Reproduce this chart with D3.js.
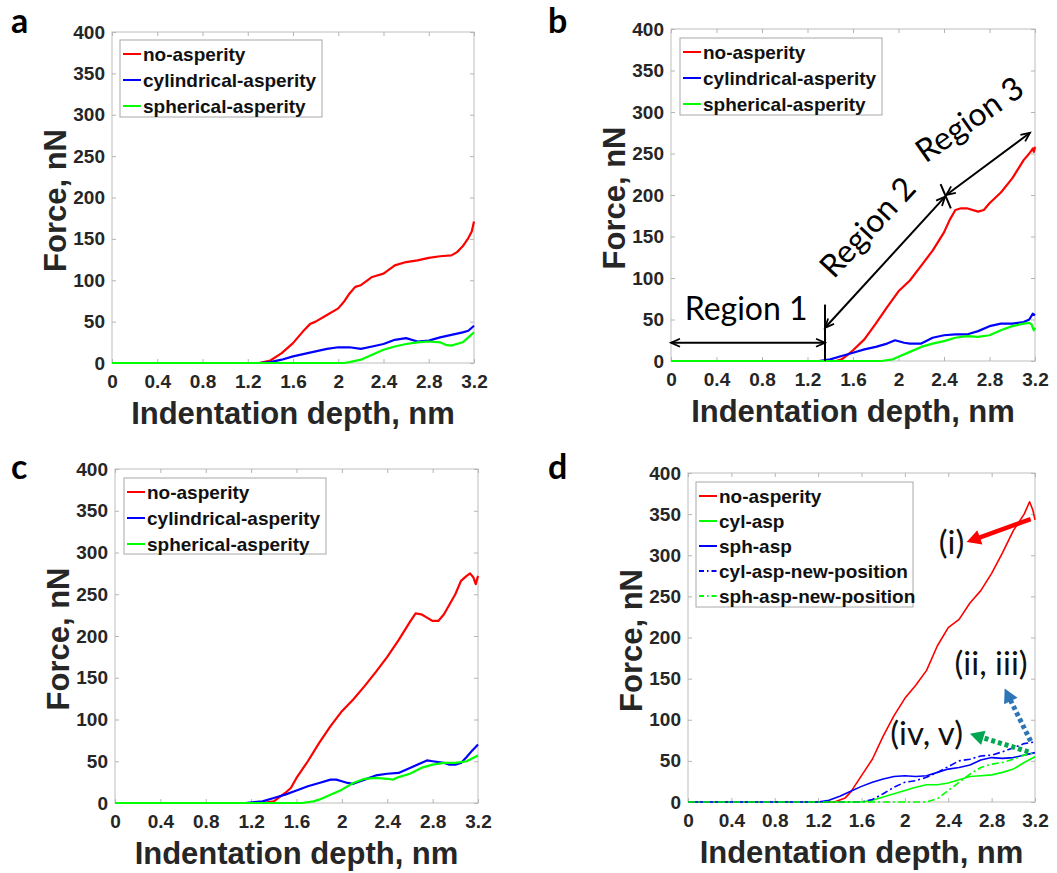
<!DOCTYPE html>
<html>
<head>
<meta charset="utf-8">
<script src="https://cdn.jsdelivr.net/npm/d3@7"></script>
<style>
  body { margin: 0; background: #fff; }
  .tick text { font-family: "Liberation Sans", Arial, sans-serif; font-weight: bold; font-size: 19px; fill: #262626; }
</style>
</head>
<body>
<script>
// shared axes
const xTicks = [0, 0.4, 0.8, 1.2, 1.6, 2, 2.4, 2.8, 3.2];
const xTickLabels = ["0", "0.4", "0.8", "1.2", "1.6", "2", "2.4", "2.8", "3.2"];
const yTicks = [0, 50, 100, 150, 200, 250, 300, 350, 400];

// panel a  [depth nm, force nN]
const aNoAsp = [[0,0],[1.3,0],[1.4,3],[1.5,12],[1.6,24],[1.7,40],[1.75,47],[1.8,50],[1.9,58],[2.0,66],[2.05,74],[2.1,84],[2.15,92],[2.2,94],[2.3,104],[2.4,108],[2.5,118],[2.6,122],[2.7,124],[2.8,127],[2.9,129],[3.0,130],[3.05,134],[3.1,141],[3.15,151],[3.18,159],[3.2,171]];
const aCyl = [[0,0],[1.3,0],[1.4,1],[1.5,4],[1.6,8],[1.7,11],[1.8,14],[1.9,17],[2.0,19],[2.1,19],[2.2,17],[2.3,20],[2.4,23],[2.5,28],[2.6,30],[2.7,26],[2.8,27],[2.9,31],[3.0,34],[3.1,37],[3.15,39],[3.2,45]];
const aSph = [[0,0],[2.05,0],[2.1,1],[2.2,4],[2.3,10],[2.4,16],[2.5,20],[2.6,23],[2.7,25],[2.8,26],[2.9,25],[2.95,22],[3.0,21],[3.1,25],[3.2,37]];

// panel b
const bNoAsp = [[0,0],[1.45,0],[1.5,2],[1.55,7],[1.6,13],[1.7,26],[1.8,45],[1.9,65],[2.0,84],[2.1,97],[2.2,115],[2.3,133],[2.4,155],[2.45,170],[2.5,182],[2.55,184],[2.6,184],[2.7,180],[2.75,182],[2.8,190],[2.9,203],[3.0,220],[3.1,242],[3.15,250],[3.18,256],[3.19,252],[3.2,258]];
const bCyl = [[0,0],[1.3,0],[1.4,2],[1.5,6],[1.6,10],[1.7,14],[1.8,17],[1.9,21],[1.97,25],[2.05,22],[2.1,21],[2.2,21],[2.3,28],[2.4,31],[2.5,32],[2.6,32],[2.7,36],[2.8,42],[2.9,45],[3.0,45],[3.1,47],[3.15,50],[3.18,57],[3.2,55]];
const bSph = [[0,0],[1.85,0],[1.95,2],[2.0,5],[2.1,11],[2.2,17],[2.3,21],[2.4,24],[2.5,28],[2.6,30],[2.7,29],[2.8,31],[2.9,37],[3.0,42],[3.1,45],[3.15,46],[3.17,44],[3.19,37],[3.2,40]];

// panel c
const cNoAsp = [[0,0],[1.3,0],[1.4,2],[1.5,12],[1.55,18],[1.6,30],[1.7,50],[1.8,72],[1.9,92],[2.0,110],[2.1,124],[2.2,140],[2.3,157],[2.4,175],[2.5,195],[2.6,217],[2.65,227],[2.7,226],[2.75,222],[2.8,218],[2.85,218],[2.9,226],[3.0,250],[3.05,266],[3.1,272],[3.13,275],[3.16,270],[3.18,262],[3.2,272]];
const cCyl = [[0,0],[1.15,0],[1.3,2],[1.4,6],[1.5,10],[1.6,15],[1.7,20],[1.8,24],[1.9,28],[1.95,28],[2.0,26],[2.05,24],[2.1,23],[2.2,28],[2.3,33],[2.4,35],[2.5,36],[2.6,42],[2.7,48],[2.75,51],[2.8,50],[2.9,48],[2.95,46],[3.0,46],[3.05,48],[3.1,55],[3.15,63],[3.2,70]];
const cSph = [[0,0],[1.65,0],[1.75,2],[1.8,4],[1.9,10],[2.0,16],[2.1,24],[2.2,29],[2.3,30],[2.4,29],[2.45,28],[2.5,31],[2.6,35],[2.7,42],[2.8,46],[2.9,48],[3.0,48],[3.1,50],[3.2,57]];

// panel d
const dNoAsp = [[0,0],[1.35,0],[1.45,5],[1.5,12],[1.6,32],[1.7,52],[1.8,80],[1.9,105],[2.0,126],[2.1,142],[2.2,160],[2.3,190],[2.4,212],[2.5,222],[2.6,242],[2.7,257],[2.8,278],[2.9,303],[3.0,330],[3.1,350],[3.15,365],[3.18,355],[3.2,343]];
const dCylAsp = [[0,0],[1.6,0],[1.7,2],[1.8,6],[1.9,10],[2.0,14],[2.1,18],[2.2,21],[2.3,21],[2.4,23],[2.5,27],[2.6,31],[2.7,32],[2.8,33],[2.9,36],[3.0,40],[3.1,48],[3.2,55]];
const dSphAsp = [[0,0],[1.2,0],[1.3,2],[1.4,7],[1.5,13],[1.6,19],[1.7,24],[1.8,28],[1.9,31],[2.0,32],[2.1,31],[2.2,32],[2.3,36],[2.4,40],[2.5,42],[2.6,45],[2.7,51],[2.8,54],[2.9,53],[3.0,54],[3.1,57],[3.2,60]];
const dCylNew = [[0,0],[1.6,0],[1.7,3],[1.8,10],[1.9,18],[2.0,24],[2.1,26],[2.2,30],[2.3,36],[2.4,43],[2.5,50],[2.6,52],[2.7,56],[2.8,57],[2.9,61],[3.0,66],[3.1,71],[3.2,73]];
const dSphNew = [[0,0],[2.2,0],[2.3,4],[2.4,14],[2.5,24],[2.6,34],[2.7,42],[2.8,46],[2.9,48],[3.0,52],[3.1,57],[3.2,60]];

const RED = "#ff0000", BLUE = "#0000ff", GREEN = "#00ff00";
const MAT = '"Liberation Sans", Arial, sans-serif';
const CAL = 'Lato, "Open Sans", sans-serif';

const svg = d3.select("body").append("svg").attr("width", 1057).attr("height", 873);

const panels = [
  { id: "a", plot: [112, 32, 474, 363], legend: [120, 40, 202, 77], lw: 2.2,
    series: [
      { name: "no-asperity", data: aNoAsp, color: RED },
      { name: "cylindrical-asperity", data: aCyl, color: BLUE },
      { name: "spherical-asperity", data: aSph, color: GREEN }] },
  { id: "b", plot: [671, 29, 1035, 361], legend: [680, 38, 202, 77], lw: 2.2,
    series: [
      { name: "no-asperity", data: bNoAsp, color: RED },
      { name: "cylindrical-asperity", data: bCyl, color: BLUE },
      { name: "spherical-asperity", data: bSph, color: GREEN }] },
  { id: "c", plot: [115, 469, 478, 803], legend: [124, 478, 202, 76], lw: 2.2,
    series: [
      { name: "no-asperity", data: cNoAsp, color: RED },
      { name: "cylindrical-asperity", data: cCyl, color: BLUE },
      { name: "spherical-asperity", data: cSph, color: GREEN }] },
  { id: "d", plot: [688, 473, 1035, 802], legend: [696, 482, 217, 125], lw: 1.6,
    series: [
      { name: "no-asperity", data: dNoAsp, color: RED },
      { name: "cyl-asp", data: dCylAsp, color: GREEN },
      { name: "sph-asp", data: dSphAsp, color: BLUE },
      { name: "cyl-asp-new-position", data: dCylNew, color: BLUE, dash: "7,3,2,3" },
      { name: "sph-asp-new-position", data: dSphNew, color: GREEN, dash: "7,3,2,3" }] }
];

// pixel-space arrow head (filled triangle or open V)
function arrowHead(g, x1, y1, x2, y2, len, half, color, filled) {
  const a = Math.atan2(y2 - y1, x2 - x1);
  const bx = x2 - len * Math.cos(a), by = y2 - len * Math.sin(a);
  const px = -Math.sin(a) * half, py = Math.cos(a) * half;
  if (filled) {
    g.append("path").attr("d", `M${x2},${y2}L${bx + px},${by + py}L${bx - px},${by - py}Z`)
      .attr("fill", color);
  } else {
    g.append("path").attr("d", `M${bx + px},${by + py}L${x2},${y2}L${bx - px},${by - py}`)
      .attr("fill", "none").attr("stroke", color).attr("stroke-width", 1.8);
  }
}

const scales = {};

panels.forEach(p => {
  const [x0, y0, x1, y1] = p.plot;
  const x = d3.scaleLinear().domain([0, 3.2]).range([x0, x1]);
  const y = d3.scaleLinear().domain([0, 400]).range([y1, y0]);
  scales[p.id] = { x, y };
  const g = svg.append("g");

  g.append("rect").attr("x", x0).attr("y", y0).attr("width", x1 - x0).attr("height", y1 - y0)
    .attr("fill", "#fff").attr("stroke", "#bdbdbd").attr("stroke-width", 1);

  const styleAxis = sel => { sel.select(".domain").remove(); sel.selectAll(".tick line").attr("stroke", "#b5b5b5"); };
  g.append("g").attr("transform", `translate(0,${y1})`)
    .call(d3.axisBottom(x).tickValues(xTicks).tickFormat((d, i) => xTickLabels[i]).tickSize(-4).tickPadding(12))
    .call(styleAxis);
  g.append("g").attr("transform", `translate(0,${y0})`)
    .call(d3.axisTop(x).tickValues(xTicks).tickFormat("").tickSize(-4)).call(styleAxis);
  g.append("g").attr("transform", `translate(${x0},0)`)
    .call(d3.axisLeft(y).tickValues(yTicks).tickSize(-4).tickPadding(7)).call(styleAxis);
  g.append("g").attr("transform", `translate(${x1},0)`)
    .call(d3.axisRight(y).tickValues(yTicks).tickFormat("").tickSize(-4)).call(styleAxis);
  g.selectAll(".tick text").attr("font-family", null).attr("font-size", null);

  const line = d3.line().x(d => x(d[0])).y(d => y(d[1]));
  p.series.forEach(s => {
    g.append("path").datum(s.data).attr("d", line)
      .attr("fill", "none").attr("stroke", s.color).attr("stroke-width", p.lw)
      .attr("stroke-dasharray", s.dash || null).attr("stroke-linejoin", "round");
  });

  // legend
  const [lx, ly, lw, lh] = p.legend;
  const lg = g.append("g");
  lg.append("rect").attr("x", lx).attr("y", ly).attr("width", lw).attr("height", lh)
    .attr("fill", "#fff").attr("stroke", "#a8a8a8").attr("stroke-width", 1);
  p.series.forEach((s, i) => {
    const yy = ly + 14 + i * (p.series.length > 3 ? 25 : 26);
    lg.append("line").attr("x1", lx + 3).attr("x2", lx + 21).attr("y1", yy).attr("y2", yy)
      .attr("stroke", s.color).attr("stroke-width", 2).attr("stroke-dasharray", s.dash ? "5,3,1.5,3" : null);
    lg.append("text").attr("x", lx + 23).attr("y", yy).attr("dy", "0.35em")
      .attr("font-family", MAT).attr("font-weight", "bold").attr("font-size", 19).attr("fill", "#111")
      .text(s.name);
  });

  // axis titles
  g.append("text").attr("x", (x0 + x1) / 2).attr("y", y1 + 61).attr("text-anchor", "middle")
    .attr("font-family", MAT).attr("font-weight", "bold").attr("font-size", 31).attr("fill", "#262626")
    .text("Indentation depth, nm");
  g.append("text").attr("transform", `translate(${x0 - 46},${(y0 + y1) / 2 + 3}) rotate(-90)`)
    .attr("text-anchor", "middle")
    .attr("font-family", MAT).attr("font-weight", "bold").attr("font-size", 31).attr("fill", "#262626")
    .text("Force, nN");
});

// panel letters
const panelLetters = [["a", 11, 33], ["b", 548, 33], ["c", 11, 479], ["d", 548, 479]];
panelLetters.forEach(([t, px, py]) => {
  svg.append("text").attr("x", px).attr("y", py).attr("font-family", CAL).attr("font-weight", "bold")
    .attr("font-size", 34).attr("fill", "#000").text(t);
});

// panel b annotations (data coordinates)
const regionBoundary = 1.354;
const region1Arrow = [[0, 22], [regionBoundary, 22]];
const region1Tick = [[regionBoundary, 0], [regionBoundary, 68]];
const region2Arrow = [[regionBoundary, 40], [2.41, 198]];
const region23Tick = [[2.37, 213], [2.46, 184]];
const region3Arrow = [[2.42, 200], [3.156, 275]];
const regionLabels = [["Region 1", 0.12, 50, 0], ["Region 2", 1.8, 152, -47], ["Region 3", 2.68, 280, -35]];

{
  const { x, y } = scales.b;
  const g = svg.append("g");
  const seg = (pts, heads) => {
    const [[a0, b0], [a1, b1]] = pts;
    const X0 = x(a0), Y0 = y(b0), X1 = x(a1), Y1 = y(b1);
    g.append("line").attr("x1", X0).attr("y1", Y0).attr("x2", X1).attr("y2", Y1)
      .attr("stroke", "#000").attr("stroke-width", 2);
    if (heads) {
      arrowHead(g, X0, Y0, X1, Y1, 9, 4, "#000", false);
      arrowHead(g, X1, Y1, X0, Y0, 9, 4, "#000", false);
    }
  };
  seg(region1Arrow, true);
  seg(region1Tick, false);
  seg(region2Arrow, true);
  seg(region23Tick, false);
  seg(region3Arrow, true);
  regionLabels.forEach(([t, dx, dy, rot], i) => {
    const tx = x(dx), ty = y(dy);
    g.append("text").attr("transform", `translate(${tx},${ty}) rotate(${rot})`)
      .attr("text-anchor", i === 0 ? "start" : "middle")
      .attr("font-family", CAL).attr("font-size", 32).attr("fill", "#000").text(t);
  });
}

// panel d annotations (data coordinates)
const dArrows = [
  { from: [3.16, 344], to: [2.57, 316], color: "#ff0000", dash: null, w: 4.5 },
  { from: [3.16, 74], to: [2.92, 138], color: "#2e75b6", dash: "4,3", w: 5 },
  { from: [3.14, 61], to: [2.6, 83], color: "#00a651", dash: "4,3", w: 5 }
];
const dLabels = [["(i)", 2.43, 315], ["(ii, iii)", 2.795, 169], ["(iv, v)", 2.2, 83]];

{
  const { x, y } = scales.d;
  const g = svg.append("g");
  dArrows.forEach(a => {
    const X0 = x(a.from[0]), Y0 = y(a.from[1]), X1 = x(a.to[0]), Y1 = y(a.to[1]);
    const ang = Math.atan2(Y1 - Y0, X1 - X0);
    const hl = 14;
    g.append("line").attr("x1", X0).attr("y1", Y0)
      .attr("x2", X1 - (hl - 2) * Math.cos(ang)).attr("y2", Y1 - (hl - 2) * Math.sin(ang))
      .attr("stroke", a.color).attr("stroke-width", a.w).attr("stroke-dasharray", a.dash);
    arrowHead(g, X0, Y0, X1, Y1, hl, 7.5, a.color, true);
  });
  dLabels.forEach(([t, dx, dy]) => {
    g.append("text").attr("x", x(dx)).attr("y", y(dy)).attr("dy", "0.35em").attr("text-anchor", "middle")
      .attr("font-family", CAL).attr("font-size", 33).attr("fill", "#111").text(t);
  });
}
</script>
</body>
</html>
